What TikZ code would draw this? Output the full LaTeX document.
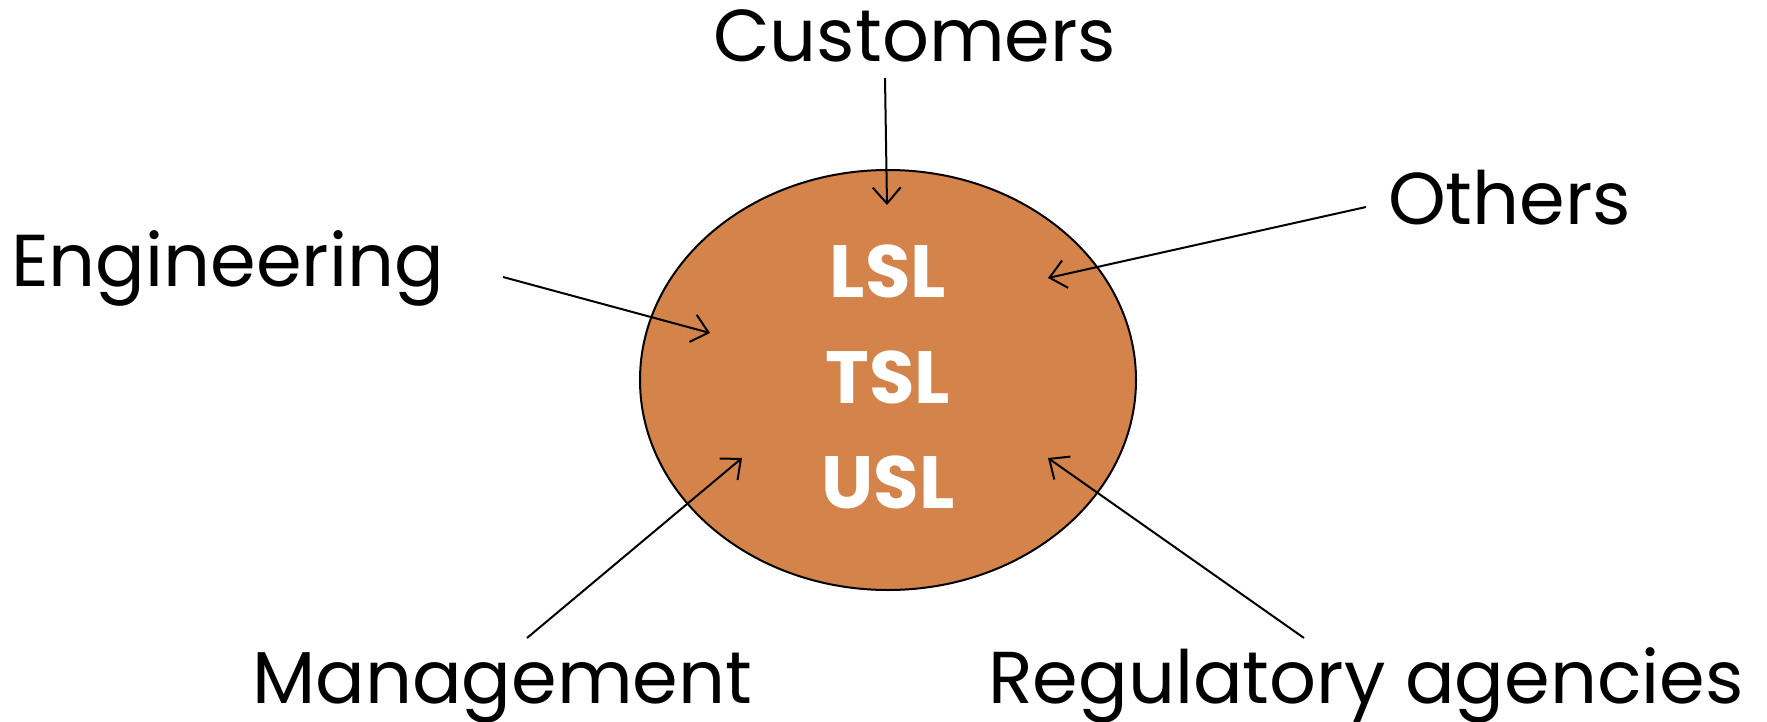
\documentclass[tikz,border=0pt]{standalone}
\usepackage{fontspec}
\setmainfont{Poppins}
\usetikzlibrary{arrows.meta,shapes.geometric}
\definecolor{specfill}{RGB}{212,131,74}
\begin{document}
\begin{tikzpicture}[x=1pt,y=-1pt,
  label/.style={inner sep=0pt,anchor=base west,font=\fontsize{73.5}{90}\selectfont},
  limit/.style={inner sep=0pt,anchor=base,text=white,font=\fontsize{74}{90}\selectfont\bfseries},
  feed/.style={draw=black,line width=2pt,-{Straight Barb[length=16pt,width=28pt,line width=2pt]}}]
\useasboundingbox (0,0) rectangle (1767,722);
% central region
\node[ellipse,draw=black,line width=2pt,fill=specfill,minimum width=496pt,minimum height=420pt,inner sep=0pt] (core) at (888,380) {};
\node[limit] (lsl) at (888,297) {LSL};
\node[limit] (tsl) at (888,403) {TSL};
\node[limit] (usl) at (888,508) {USL};
% sources
\node[label] (cust) at (713,62) {Customers};
\node[label] (oth) at (1388,225) {Others};
\node[label] (eng) at (11,287) {Engineering};
\node[label] (mgmt) at (252,703) {Management};
\node[label] (reg) at (988,703) {Regulatory agencies};
% arrow ends
\coordinate (custS) at (885,78);   \coordinate (custT) at (887,205);
\coordinate (othS) at (1366,207);  \coordinate (othT) at (1048,278);
\coordinate (engS) at (503,277);   \coordinate (engT) at (710,333);
\coordinate (mgmtS) at (527,638);  \coordinate (mgmtT) at (742,458);
\coordinate (regS) at (1304,638);  \coordinate (regT) at (1048,458);
\draw[feed] (custS) -- (custT);
\draw[feed] (othS) -- (othT);
\draw[feed] (engS) -- (engT);
\draw[feed] (mgmtS) -- (mgmtT);
\draw[feed] (regS) -- (regT);
\end{tikzpicture}
\end{document}
